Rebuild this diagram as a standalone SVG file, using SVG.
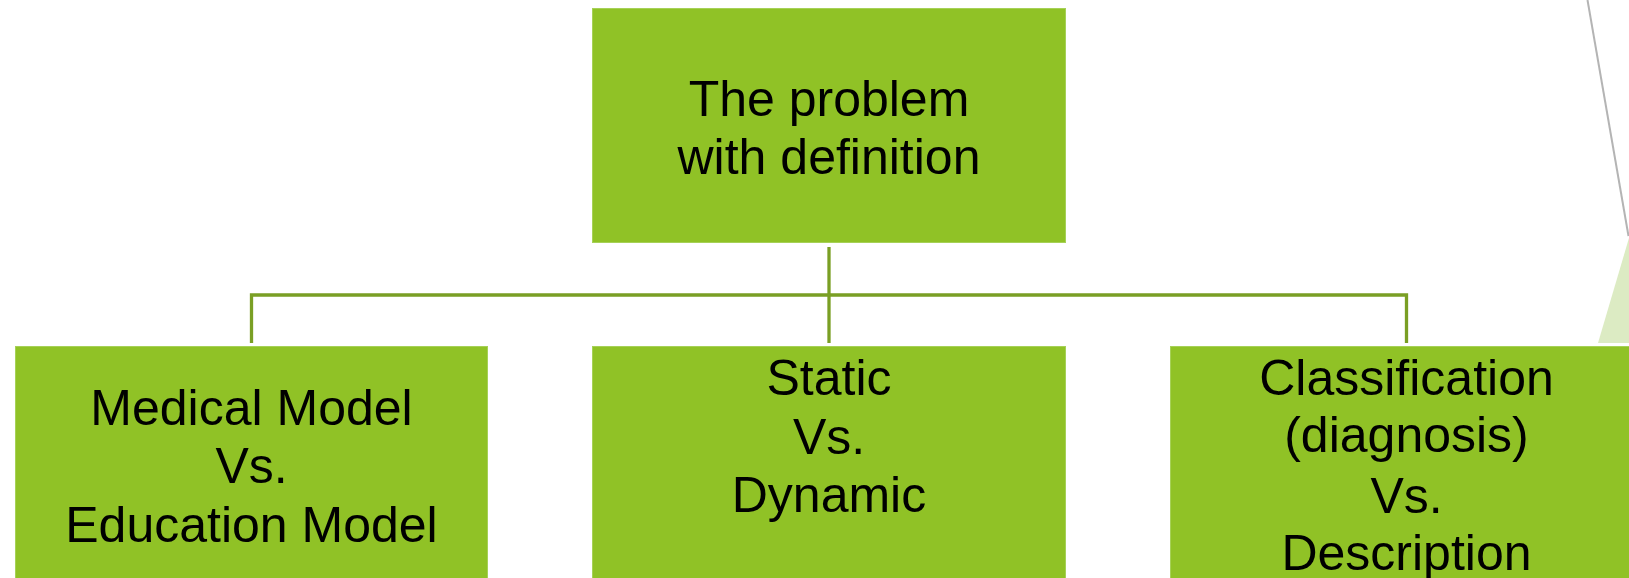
<svg xmlns="http://www.w3.org/2000/svg" width="1629" height="578" viewBox="0 0 1629 578">
<style>
.box{fill:#90c226;stroke:#a6d157;stroke-width:1}
.t{font-family:"Liberation Sans",Arial,sans-serif;font-size:50px;fill:#000;text-anchor:middle}
.c{stroke:#7a9f24;stroke-width:3.3;fill:none}
</style>
<rect width="1629" height="578" fill="#fff"/>
<g id="decor">
<polygon points="1629,238 1598,343 1629,343" fill="#dcebc3"/>
<line x1="1587.5" y1="0" x2="1628.5" y2="236" stroke="#b4b4b4" stroke-width="2"/>
</g>
<g id="connectors">
<line class="c" x1="829" y1="247" x2="829" y2="343"/>
<polyline class="c" points="251.5,343 251.5,295 1406.5,295 1406.5,343"/>
</g>
<g id="root">
<rect class="box" x="592.5" y="8.5" width="473" height="234"/>
<text class="t" x="829" y="115.5">The problem</text>
<text class="t" x="829" y="173.5">with definition</text>
</g>
<g id="medical">
<rect class="box" x="15.5" y="346.5" width="472" height="240"/>
<text class="t" x="251.5" y="425">Medical Model</text>
<text class="t" x="251.5" y="483">Vs.</text>
<text class="t" x="251.5" y="541.5">Education Model</text>
</g>
<g id="static">
<rect class="box" x="592.5" y="346.5" width="473" height="240"/>
<text class="t" x="829" y="395">Static</text>
<text class="t" x="829" y="454">Vs.</text>
<text class="t" x="829" y="511.5">Dynamic</text>
</g>
<g id="classification">
<rect class="box" x="1170.5" y="346.5" width="473" height="240"/>
<text class="t" x="1406.5" y="395">Classification</text>
<text class="t" x="1406.5" y="452">(diagnosis)</text>
<text class="t" x="1406.5" y="512.5">Vs.</text>
<text class="t" x="1406.5" y="570">Description</text>
</g>
</svg>
